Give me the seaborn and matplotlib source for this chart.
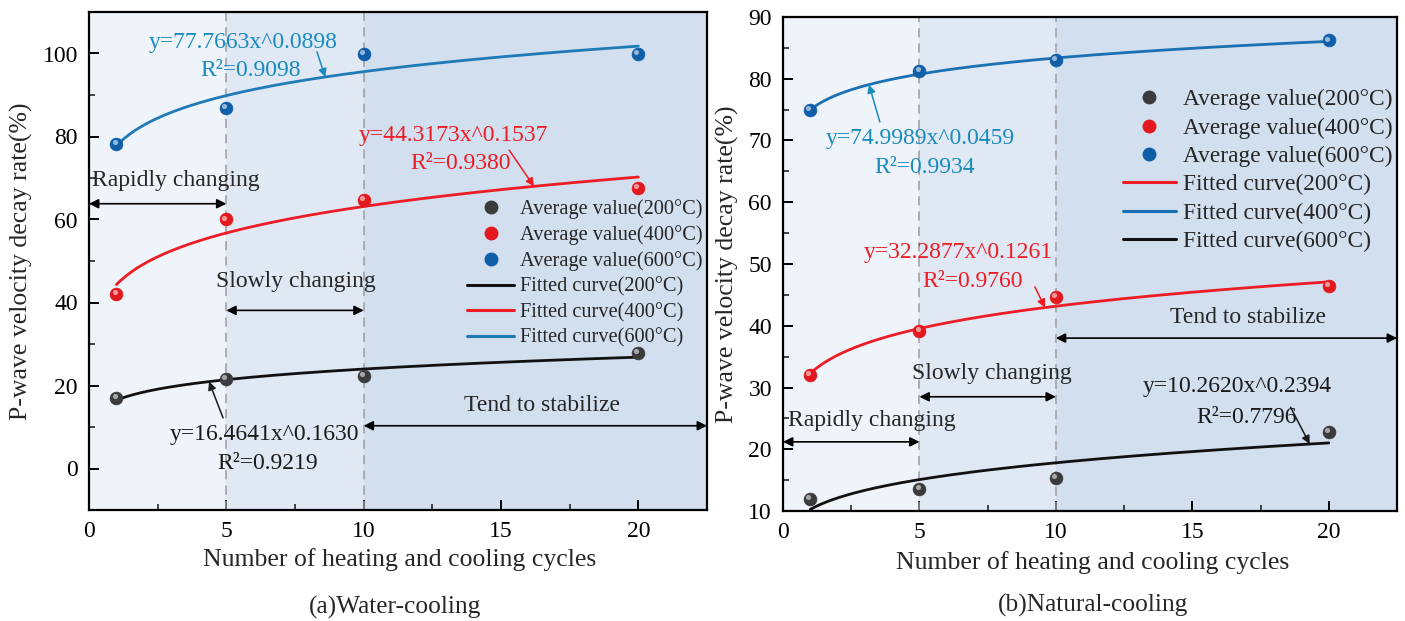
import numpy as np
import pandas as pd
import matplotlib
matplotlib.use("Agg")
import matplotlib.pyplot as plt
from matplotlib.lines import Line2D
from matplotlib.transforms import offset_copy
import seaborn as sns

# ---------------- data ----------------
cycles = [1, 5, 10, 20]
temps = ["200°C", "400°C", "600°C"]

# (a) water-cooling: average P-wave velocity decay rate (%)
water_200 = [17.0, 21.6, 22.2, 27.8]
water_400 = [42.1, 60.0, 64.7, 67.6]
water_600 = [78.1, 86.8, 99.8, 99.8]
water_fit_a = [16.4641, 44.3173, 77.7663]
water_fit_b = [0.1630, 0.1537, 0.0898]
water_r2 = ["0.9219", "0.9380", "0.9098"]

# (b) natural-cooling
natural_200 = [12.0, 13.5, 15.4, 22.8]
natural_400 = [32.0, 39.1, 44.7, 46.4]
natural_600 = [75.0, 81.3, 83.0, 86.2]
natural_fit_a = [10.2620, 32.2877, 74.9989]
natural_fit_b = [0.2394, 0.1261, 0.0459]
natural_r2 = ["0.7796", "0.9760", "0.9934"]

stage_labels = ["Rapidly changing", "Slowly changing", "Tend to stabilize"]
stage_bounds = [0, 5, 10, 22.5]

# ---------------- style ----------------
sns.set_theme(style="ticks")
plt.rcParams["font.family"] = ["Liberation Serif", "DejaVu Serif"]
plt.rcParams["axes.linewidth"] = 1.6

point_colors = ["#3b3b3b", "#e3191f", "#0f5ea8"]
curve_colors_a = ["#111111", "#ee1c25", "#1f7ab8"]
curve_colors_b = ["#111111", "#ee1c25", "#1a70b3"]
text_colors = ["#1a1a1a", "#ee1c25", "#1a8bbd"]
stage_fill = ["#eff3fa", "#e0e8f4", "#d1dfef"]


def fit(a, b, x):
    return a * np.power(x, b)


def draw_panel(ax, series, fit_a, fit_b, curve_colors):
    for lo, hi, c in zip(stage_bounds[:-1], stage_bounds[1:], stage_fill):
        ax.axvspan(lo, hi, color=c, zorder=0, lw=0)
    for xv in stage_bounds[1:3]:
        ax.axvline(xv, color="#9c9c9c", ls=(0, (6, 4)), lw=1.1, zorder=1)

    xs = np.linspace(1, 20, 200)
    for a, b, c in zip(fit_a, fit_b, curve_colors):
        df = pd.DataFrame({"x": xs, "y": fit(a, b, xs)})
        sns.lineplot(data=df, x="x", y="y", ax=ax, color=c, lw=2.0, zorder=3)

    hl = offset_copy(ax.transData, fig=ax.figure, x=-1.4, y=1.4, units="points")
    for vals, c in zip(series, point_colors):
        df = pd.DataFrame({"x": cycles, "y": vals})
        sns.scatterplot(data=df, x="x", y="y", ax=ax, color=c, s=85,
                        edgecolor=c, linewidth=0.5, zorder=4)
        ax.scatter(cycles, vals, s=14, color="white", alpha=0.55,
                   lw=0, zorder=5, transform=hl)

    ax.set_xlim(0, 22.5)
    ax.set_xticks([0, 5, 10, 15, 20])
    ax.set_xticks([2.5, 7.5, 12.5, 17.5], minor=True)
    ax.tick_params(which="major", direction="in", length=7, width=1.4,
                   labelsize=17, pad=8, colors="black")
    ax.tick_params(which="minor", direction="in", length=4, width=1.2)
    for s in ax.spines.values():
        s.set_color("black")
        s.set_linewidth(1.6)
    ax.set_xlabel("Number of heating and cooling cycles", fontsize=18.5)
    ax.xaxis.label.set_va("center")
    ax.set_ylabel("P-wave velocity decay rate(%)", fontsize=18.5)
    ax.yaxis.label.set_va("center")


def stage_arrow(ax, x0, x1, y, label, tx, ty):
    ax.annotate("", xy=(x1, y), xytext=(x0, y),
                arrowprops=dict(arrowstyle="<|-|>", color="black", lw=1.2,
                                mutation_scale=14, shrinkA=0, shrinkB=0),
                annotation_clip=False, zorder=6)
    ax.text(tx, ty, label, ha="center", va="center", fontsize=17, zorder=6)


def equation(ax, a, b, r2, color, tx, ty, rx, ry, ax0, ay0, xtip):
    ax.text(tx, ty, f"y={a:.4f}x^{b:.4f}", color=color, fontsize=17,
            ha="center", va="center", zorder=6)
    ax.text(rx, ry, f"R²={r2}", color=color, fontsize=17,
            ha="center", va="center", zorder=6)
    ax.annotate("", xy=(xtip, fit(a, b, xtip)), xytext=(ax0, ay0),
                arrowprops=dict(arrowstyle="-|>", color=color, lw=1.1,
                                mutation_scale=12, shrinkA=0, shrinkB=0),
                zorder=6)


fig = plt.figure(figsize=(14.05, 6.21), dpi=100)
fig.patch.set_facecolor("white")

# ---------------- (a) water-cooling ----------------
axa = fig.add_axes([89 / 1405, 1 - 510 / 621, 618 / 1405, 498 / 621])
draw_panel(axa, [water_200, water_400, water_600], water_fit_a, water_fit_b,
           curve_colors_a)
axa.set_ylim(-10, 110)
axa.set_yticks([0, 20, 40, 60, 80, 100])
axa.set_yticks([10, 30, 50, 70, 90], minor=True)
axa.xaxis.set_label_coords(0.503, -0.10)
axa.yaxis.set_label_coords(-0.11, 0.5)

stage_arrow(axa, 0, 5, 63.8, stage_labels[0], 3.17, 69.5)
stage_arrow(axa, 5, 10, 38.1, stage_labels[1], 7.55, 45.1)
stage_arrow(axa, 10, 22.5, 10.3, stage_labels[2], 16.5, 15.1)

equation(axa, water_fit_a[2], water_fit_b[2], water_r2[2], text_colors[2],
         5.6, 102.6, 5.9, 95.9, 8.3, 100.4, 8.6)
equation(axa, water_fit_a[1], water_fit_b[1], water_r2[1], text_colors[1],
         13.27, 80.3, 13.54, 73.4, 15.3, 76.7, 16.2)
equation(axa, water_fit_a[0], water_fit_b[0], water_r2[0], text_colors[0],
         6.39, 8.15, 6.5, 1.2, 4.88, 12.2, 4.37)

handles_a = [Line2D([], [], ls="", marker="o", ms=9, color=c) for c in point_colors]
handles_a += [Line2D([], [], color=c, lw=2.2) for c in curve_colors_a]
labels_a = [f"Average value({t})" for t in temps] + [f"Fitted curve({t})" for t in temps]
axa.legend(handles_a, labels_a, loc="upper left", bbox_to_anchor=(0.612, 0.624),
           frameon=False, fontsize=14.7, handlelength=2.3, handletextpad=0.3,
           labelspacing=0.30, borderpad=0, borderaxespad=0)

# ---------------- (b) natural-cooling ----------------
axb = fig.add_axes([783 / 1405, 1 - 511 / 621, 614 / 1405, 494 / 621])
draw_panel(axb, [natural_200, natural_400, natural_600], natural_fit_a,
           natural_fit_b, curve_colors_b)
axb.set_ylim(10, 90)
axb.set_yticks(np.arange(10, 91, 10))
axb.set_yticks(np.arange(15, 90, 10), minor=True)
axb.xaxis.set_label_coords(0.505, -0.105)
axb.yaxis.set_label_coords(-0.09, 0.5)

stage_arrow(axb, 0, 5, 21.2, stage_labels[0], 3.26, 24.7)
stage_arrow(axb, 5, 10, 28.5, stage_labels[1], 7.67, 32.3)
stage_arrow(axb, 10, 22.5, 38.0, stage_labels[2], 17.05, 41.4)

equation(axb, natural_fit_a[2], natural_fit_b[2], natural_r2[2], text_colors[2],
         5.02, 70.4, 5.2, 65.7, 3.55, 73.0, 3.15)
equation(axb, natural_fit_a[1], natural_fit_b[1], natural_r2[1], text_colors[1],
         6.41, 51.9, 6.96, 47.1, 9.23, 46.3, 9.6)
equation(axb, natural_fit_a[0], natural_fit_b[0], natural_r2[0], text_colors[0],
         16.65, 30.1, 16.98, 25.2, 18.6, 26.8, 19.3)

legend_curve_colors_b = ["#ee1c25", "#1a70b3", "#111111"]
handles_b = [Line2D([], [], ls="", marker="o", ms=9, color=c) for c in point_colors]
handles_b += [Line2D([], [], color=c, lw=2.2) for c in legend_curve_colors_b]
axb.legend(handles_b, labels_a, loc="upper left", bbox_to_anchor=(0.553, 0.854),
           frameon=False, fontsize=16.8, handlelength=2.3, handletextpad=0.3,
           labelspacing=0.30, borderpad=0, borderaxespad=0)

fig.text(395 / 1405, 1 - 607 / 621, "(a)Water-cooling", ha="center",
         va="center", fontsize=18.3)
fig.text(1093 / 1405, 1 - 605 / 621, "(b)Natural-cooling", ha="center",
         va="center", fontsize=18.3)

fig.savefig("out.png", dpi=100, facecolor="white")
